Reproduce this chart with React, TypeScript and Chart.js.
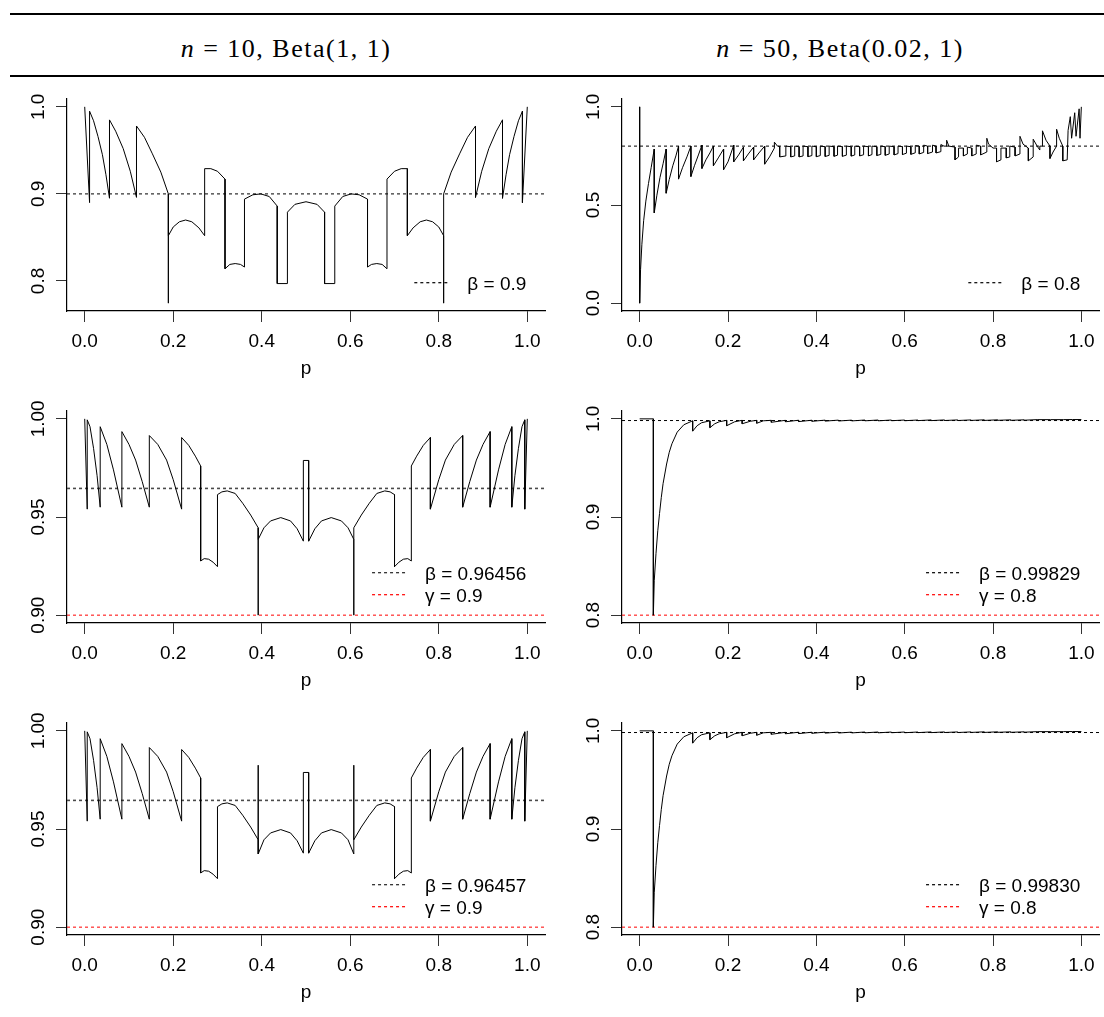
import React, { useEffect, useRef } from 'react';
import { Chart, registerables } from 'chart.js';

Chart.register(...registerables);

type Pt = [number, number];

// ---------------- data ----------------
const xRange: [number, number] = [-0.04, 1.04];
const xTicks = [0, 0.2, 0.4, 0.6, 0.8, 1.0];

const yTicksN10Top = [0.8, 0.9, 1.0];
const yTicksN50Top = [0.0, 0.5, 1.0];
const yTicksN10Low = [0.9, 0.95, 1.0];
const yTicksN50Low = [0.8, 0.9, 1.0];

const headers = ['n = 10, Beta(1, 1)', 'n = 50, Beta(0.02, 1)'];

// coverage, n = 10, Beta(1,1), row 1
const covN10Row1: Pt[] = [
  [0, 1.0], [0.011, 0.89], [0.011, 0.995], [0.02, 0.984], [0.03, 0.966], [0.04, 0.945], [0.048, 0.922], [0.056, 0.895],
  [0.056, 0.985], [0.07, 0.972], [0.087, 0.952], [0.103, 0.926], [0.117, 0.896],
  [0.117, 0.978], [0.135, 0.965], [0.153, 0.946], [0.172, 0.925], [0.189, 0.9],
  [0.189, 0.7745], [0.189, 0.852], [0.2, 0.862], [0.214, 0.868], [0.228, 0.87], [0.242, 0.868], [0.258, 0.861], [0.271, 0.852],
  [0.271, 0.929], [0.285, 0.929], [0.3, 0.926], [0.317, 0.917],
  [0.317, 0.814], [0.328, 0.819], [0.34, 0.82], [0.352, 0.819], [0.361, 0.816],
  [0.361, 0.894], [0.38, 0.899], [0.398, 0.9], [0.417, 0.897], [0.435, 0.886],
  [0.435, 0.797], [0.458, 0.797],
  [0.458, 0.879], [0.475, 0.888], [0.5, 0.891], [0.525, 0.888], [0.542, 0.879],
  [0.542, 0.797], [0.565, 0.797],
  [0.565, 0.886], [0.583, 0.897], [0.602, 0.9], [0.62, 0.899], [0.639, 0.894],
  [0.639, 0.816], [0.648, 0.819], [0.66, 0.82], [0.672, 0.819], [0.683, 0.814],
  [0.683, 0.917], [0.7, 0.926], [0.715, 0.929], [0.729, 0.929],
  [0.729, 0.852], [0.742, 0.861], [0.758, 0.868], [0.772, 0.87], [0.786, 0.868], [0.8, 0.862], [0.811, 0.852],
  [0.811, 0.7745], [0.811, 0.9], [0.828, 0.925], [0.847, 0.946], [0.865, 0.965], [0.883, 0.978],
  [0.883, 0.896], [0.897, 0.926], [0.913, 0.952], [0.93, 0.972], [0.944, 0.985],
  [0.944, 0.895], [0.952, 0.922], [0.96, 0.945], [0.97, 0.966], [0.98, 0.984], [0.989, 0.995],
  [0.989, 0.89], [1.0, 1.0],
];

// coverage, n = 50, Beta(0.02,1), row 1
const covN50Row1: Pt[] = [
  [0, 1.0], [0, 0.0],
  [0.002, 0.17], [0.005, 0.3], [0.009, 0.42], [0.014, 0.52], [0.02, 0.61], [0.026, 0.69], [0.033, 0.785],
  [0.033, 0.46], [0.039, 0.55], [0.046, 0.64], [0.053, 0.71], [0.06, 0.785],
  [0.06, 0.56], [0.067, 0.63], [0.075, 0.7], [0.082, 0.75], [0.088, 0.8],
  [0.088, 0.632], [0.097, 0.69], [0.107, 0.745], [0.116, 0.8],
  [0.116, 0.645], [0.124, 0.7], [0.133, 0.755], [0.141, 0.805],
  [0.141, 0.686], [0.15, 0.73], [0.159, 0.765], [0.167, 0.8],
  [0.167, 0.7], [0.178, 0.74], [0.19, 0.785],
  [0.19, 0.68], [0.2, 0.72], [0.213, 0.805],
  [0.213, 0.72], [0.224, 0.755], [0.235, 0.795],
  [0.235, 0.725], [0.246, 0.76], [0.258, 0.795],
  [0.258, 0.73], [0.27, 0.765], [0.283, 0.8],
  [0.283, 0.708], [0.294, 0.745], [0.305, 0.79], [0.305, 0.82], [0.312, 0.8],
  [0.317, 0.798], [0.317, 0.745], [0.331, 0.75], [0.331, 0.8], [0.342, 0.797], [0.342, 0.745], [0.351, 0.75],
  [0.351, 0.8], [0.361, 0.797], [0.361, 0.745], [0.37, 0.75], [0.37, 0.8], [0.381, 0.797], [0.381, 0.746],
  [0.39, 0.752], [0.39, 0.8], [0.4, 0.797], [0.4, 0.746], [0.409, 0.752], [0.409, 0.8], [0.42, 0.797],
  [0.42, 0.747], [0.429, 0.753], [0.429, 0.8], [0.44, 0.797], [0.44, 0.748], [0.448, 0.754], [0.448, 0.8],
  [0.459, 0.797], [0.459, 0.748], [0.468, 0.754], [0.468, 0.8], [0.479, 0.797], [0.479, 0.749], [0.487, 0.755],
  [0.487, 0.8], [0.498, 0.797], [0.498, 0.75], [0.507, 0.756], [0.507, 0.8], [0.518, 0.797], [0.518, 0.75],
  [0.526, 0.757], [0.526, 0.8], [0.537, 0.797], [0.537, 0.752], [0.546, 0.758], [0.546, 0.8], [0.556, 0.797],
  [0.556, 0.753], [0.565, 0.76], [0.565, 0.8], [0.576, 0.797], [0.576, 0.755], [0.585, 0.762], [0.585, 0.8],
  [0.595, 0.797], [0.595, 0.757], [0.604, 0.764], [0.604, 0.8], [0.614, 0.797], [0.614, 0.758], [0.624, 0.766],
  [0.624, 0.803], [0.633, 0.8], [0.633, 0.76], [0.643, 0.768], [0.643, 0.805], [0.652, 0.8], [0.652, 0.762],
  [0.663, 0.77], [0.663, 0.805], [0.671, 0.8], [0.671, 0.765], [0.682, 0.772], [0.682, 0.808], [0.689, 0.8],
  [0.695, 0.8], [0.695, 0.83], [0.7, 0.8], [0.714, 0.795], [0.714, 0.73], [0.722, 0.745], [0.722, 0.79],
  [0.733, 0.79], [0.733, 0.75], [0.742, 0.76], [0.742, 0.795], [0.752, 0.79], [0.752, 0.75], [0.762, 0.76],
  [0.762, 0.805], [0.772, 0.8], [0.772, 0.755], [0.786, 0.77], [0.786, 0.84], [0.79, 0.81], [0.8, 0.79],
  [0.808, 0.79], [0.808, 0.72], [0.818, 0.73], [0.818, 0.79], [0.83, 0.79], [0.83, 0.74], [0.838, 0.745],
  [0.838, 0.8], [0.85, 0.795], [0.85, 0.75], [0.861, 0.76], [0.861, 0.85], [0.868, 0.81], [0.88, 0.79],
  [0.88, 0.725], [0.891, 0.745], [0.891, 0.835], [0.9, 0.8], [0.906, 0.78], [0.906, 0.8], [0.912, 0.8],
  [0.912, 0.878], [0.92, 0.83], [0.929, 0.8], [0.929, 0.737], [0.936, 0.77], [0.944, 0.8], [0.944, 0.886],
  [0.95, 0.84], [0.958, 0.8], [0.958, 0.725], [0.968, 0.73],
  [0.97, 0.88], [0.975, 0.95], [0.978, 0.84], [0.985, 0.97], [0.988, 0.85], [0.995, 0.99], [0.997, 0.84], [1.0, 1.0],
];

// coverage, n = 10, Beta(1,1), row 2
const covN10Row2: Pt[] = [
  [0, 1.0], [0.0057, 0.954], [0.0057, 0.9995], [0.012, 0.996], [0.02, 0.985], [0.028, 0.971], [0.035, 0.955],
  [0.035, 0.996], [0.05, 0.987], [0.065, 0.974], [0.084, 0.955],
  [0.084, 0.9935], [0.1, 0.987], [0.115, 0.979], [0.13, 0.968], [0.146, 0.955],
  [0.146, 0.9915], [0.165, 0.987], [0.185, 0.979], [0.2, 0.969], [0.219, 0.954],
  [0.219, 0.9905], [0.235, 0.9865], [0.25, 0.981], [0.262, 0.976],
  [0.262, 0.9276], [0.27, 0.9288], [0.28, 0.9285], [0.29, 0.927], [0.3, 0.9247],
  [0.3, 0.9614], [0.31, 0.9628], [0.322, 0.9633], [0.34, 0.962], [0.357, 0.957], [0.375, 0.951], [0.392, 0.9445],
  [0.392, 0.9], [0.392, 0.9386],
  [0.405, 0.9445], [0.42, 0.948], [0.443, 0.9497], [0.465, 0.948], [0.48, 0.944], [0.494, 0.9377],
  [0.494, 0.9788], [0.506, 0.9788], [0.506, 0.9377],
  [0.52, 0.944], [0.535, 0.948], [0.557, 0.9497], [0.58, 0.948], [0.595, 0.9445], [0.608, 0.9386],
  [0.608, 0.9], [0.608, 0.9445],
  [0.625, 0.951], [0.643, 0.957], [0.66, 0.962], [0.678, 0.9633], [0.69, 0.9628], [0.7, 0.9614],
  [0.7, 0.9247], [0.71, 0.927], [0.72, 0.9285], [0.73, 0.9288], [0.738, 0.9276],
  [0.738, 0.976], [0.75, 0.981], [0.765, 0.9865], [0.781, 0.9905],
  [0.781, 0.954], [0.8, 0.969], [0.815, 0.979], [0.835, 0.987], [0.854, 0.9915],
  [0.854, 0.955], [0.87, 0.968], [0.885, 0.979], [0.9, 0.987], [0.916, 0.9935],
  [0.916, 0.955], [0.935, 0.974], [0.95, 0.987], [0.965, 0.996],
  [0.965, 0.955], [0.972, 0.971], [0.98, 0.985], [0.988, 0.996], [0.9943, 0.9995],
  [0.9943, 0.954], [1.0, 1.0],
];

// coverage, n = 10, Beta(1,1), row 3
const covN10Row3: Pt[] = [
  [0, 1.0], [0.0057, 0.954], [0.0057, 0.9995], [0.012, 0.996], [0.02, 0.985], [0.028, 0.971], [0.035, 0.955],
  [0.035, 0.996], [0.05, 0.987], [0.065, 0.974], [0.084, 0.955],
  [0.084, 0.9935], [0.1, 0.987], [0.115, 0.979], [0.13, 0.968], [0.146, 0.955],
  [0.146, 0.9915], [0.165, 0.987], [0.185, 0.979], [0.2, 0.969], [0.219, 0.954],
  [0.219, 0.9905], [0.235, 0.9865], [0.25, 0.981], [0.262, 0.976],
  [0.262, 0.9276], [0.27, 0.9288], [0.28, 0.9285], [0.29, 0.927], [0.3, 0.9247],
  [0.3, 0.9614], [0.31, 0.9628], [0.322, 0.9633], [0.34, 0.962], [0.357, 0.957], [0.375, 0.951], [0.392, 0.9445],
  [0.392, 0.9825], [0.392, 0.9373],
  [0.405, 0.9445], [0.42, 0.948], [0.443, 0.9497], [0.465, 0.948], [0.48, 0.944], [0.494, 0.9377],
  [0.494, 0.9788], [0.506, 0.9788], [0.506, 0.9377],
  [0.52, 0.944], [0.535, 0.948], [0.557, 0.9497], [0.58, 0.948], [0.595, 0.9445], [0.608, 0.9373],
  [0.608, 0.9825], [0.608, 0.9445],
  [0.625, 0.951], [0.643, 0.957], [0.66, 0.962], [0.678, 0.9633], [0.69, 0.9628], [0.7, 0.9614],
  [0.7, 0.9247], [0.71, 0.927], [0.72, 0.9285], [0.73, 0.9288], [0.738, 0.9276],
  [0.738, 0.976], [0.75, 0.981], [0.765, 0.9865], [0.781, 0.9905],
  [0.781, 0.954], [0.8, 0.969], [0.815, 0.979], [0.835, 0.987], [0.854, 0.9915],
  [0.854, 0.955], [0.87, 0.968], [0.885, 0.979], [0.9, 0.987], [0.916, 0.9935],
  [0.916, 0.955], [0.935, 0.974], [0.95, 0.987], [0.965, 0.996],
  [0.965, 0.955], [0.972, 0.971], [0.98, 0.985], [0.988, 0.996], [0.9943, 0.9995],
  [0.9943, 0.954], [1.0, 1.0],
];

// coverage, n = 50, Beta(0.02,1), rows 2 and 3
const covN50Low: Pt[] = [
  [0, 1.0], [0.031, 1.0], [0.031, 0.8], [0.033, 0.835], [0.037, 0.863], [0.041, 0.886], [0.045, 0.9036],
  [0.049, 0.92], [0.053, 0.934], [0.061, 0.954], [0.067, 0.966], [0.073, 0.9746], [0.085, 0.9865],
  [0.1, 0.994], [0.12, 0.998],
  [0.12, 0.9875], [0.13, 0.993], [0.14, 0.996], [0.159, 0.998],
  [0.159, 0.991], [0.17, 0.995], [0.18, 0.997], [0.197, 0.9985],
  [0.197, 0.993], [0.215, 0.997], [0.232, 0.9985],
  [0.232, 0.995], [0.25, 0.9975], [0.265, 0.9985],
  [0.265, 0.9955], [0.28, 0.998], [0.298, 0.9985],
  [0.298, 0.9965], [0.33, 0.9985], [0.33, 0.997], [0.36, 0.9986], [0.36, 0.9972], [0.39, 0.9986],
  [0.39, 0.9975], [0.42, 0.9987], [0.42, 0.9977], [0.45, 0.9987], [0.45, 0.9978], [0.48, 0.9987],
  [0.48, 0.9979], [0.51, 0.9988], [0.51, 0.998], [0.54, 0.9988], [0.54, 0.998], [0.57, 0.9988],
  [0.57, 0.9981], [0.6, 0.9988], [0.6, 0.9981], [0.63, 0.9988], [0.63, 0.9982], [0.66, 0.9989],
  [0.66, 0.9982], [0.69, 0.9989], [0.69, 0.9983], [0.72, 0.9989], [0.72, 0.9983], [0.75, 0.9989],
  [0.75, 0.9984], [0.78, 0.999], [0.78, 0.9984], [0.81, 0.999], [0.81, 0.9985], [0.84, 0.999],
  [0.84, 0.9985], [0.87, 0.999], [0.87, 0.9986], [0.9, 0.9992], [0.93, 0.9992], [0.96, 0.9992],
  [0.98, 0.9993], [1.0, 0.9993],
];

// reference levels
const betaRow1 = [0.9, 0.8];
const betaRow2 = [0.96456, 0.99829];
const betaRow3 = [0.96457, 0.9983];
const gammaLevels = [0.9, 0.8];

// ---------------- layout / style ----------------
const FONT = '"Liberation Sans", Arial, Helvetica, sans-serif';
const CANVAS_W = 552;
const CANVAS_H = 301;
const colLeft = [0, 552];
const rowTop = [80, 392, 704];
const yScaleW = [67, 70];
const padRight = [7, 5];

type Ref = { value: number; color: string; legendColor: string; width: number; label: string };
type PanelSpec = {
  col: number;
  row: number;
  curve: Pt[];
  yMin: number;
  yMax: number;
  yTicks: number[];
  yDigits: number;
  refs: Ref[];
};

const fmtBeta = (v: number) => v.toFixed(5);

const panels: PanelSpec[] = [
  {
    col: 0, row: 0, curve: covN10Row1, yMin: 0.7655, yMax: 1.009, yTicks: yTicksN10Top, yDigits: 1,
    refs: [{ value: betaRow1[0], color: '#000', legendColor: '#000', width: 1, label: 'β = ' + betaRow1[0] }],
  },
  {
    col: 1, row: 0, curve: covN50Row1, yMin: -0.04, yMax: 1.04, yTicks: yTicksN50Top, yDigits: 1,
    refs: [{ value: betaRow1[1], color: '#000', legendColor: '#000', width: 1, label: 'β = ' + betaRow1[1] }],
  },
  {
    col: 0, row: 1, curve: covN10Row2, yMin: 0.896, yMax: 1.004, yTicks: yTicksN10Low, yDigits: 2,
    refs: [
      { value: betaRow2[0], color: '#4a4a4a', legendColor: '#222', width: 1.6, label: 'β = ' + fmtBeta(betaRow2[0]) },
      { value: gammaLevels[0], color: '#ff0000', legendColor: '#ff0000', width: 1, label: 'γ = ' + gammaLevels[0] },
    ],
  },
  {
    col: 1, row: 1, curve: covN50Low, yMin: 0.792, yMax: 1.008, yTicks: yTicksN50Low, yDigits: 1,
    refs: [
      { value: betaRow2[1], color: '#000', legendColor: '#000', width: 1, label: 'β = ' + fmtBeta(betaRow2[1]) },
      { value: gammaLevels[1], color: '#ff0000', legendColor: '#ff0000', width: 1, label: 'γ = ' + gammaLevels[1] },
    ],
  },
  {
    col: 0, row: 2, curve: covN10Row3, yMin: 0.896, yMax: 1.004, yTicks: yTicksN10Low, yDigits: 2,
    refs: [
      { value: betaRow3[0], color: '#4a4a4a', legendColor: '#222', width: 1.6, label: 'β = ' + fmtBeta(betaRow3[0]) },
      { value: gammaLevels[0], color: '#ff0000', legendColor: '#ff0000', width: 1, label: 'γ = ' + gammaLevels[0] },
    ],
  },
  {
    col: 1, row: 2, curve: covN50Low, yMin: 0.792, yMax: 1.008, yTicks: yTicksN50Low, yDigits: 1,
    refs: [
      { value: betaRow3[1], color: '#000', legendColor: '#000', width: 1, label: 'β = ' + fmtBeta(betaRow3[1]) },
      { value: gammaLevels[1], color: '#ff0000', legendColor: '#ff0000', width: 1, label: 'γ = ' + gammaLevels[1] },
    ],
  },
];

function Panel({ spec }: { spec: PanelSpec }) {
  const ref = useRef<HTMLCanvasElement | null>(null);
  useEffect(() => {
    const canvas = ref.current;
    if (!canvas) return;
    const font19 = `19px ${FONT}`;
    const decor = {
      id: 'rdecor',
      afterDraw(chart: any) {
        const ctx = chart.ctx as CanvasRenderingContext2D;
        const { left, right, bottom } = chart.chartArea;
        const ys = chart.scales.y;
        const xs = chart.scales.x;
        ctx.save();
        ctx.fillStyle = '#000';
        ctx.font = font19;
        // rotated y tick labels
        for (const v of spec.yTicks) {
          const py = ys.getPixelForValue(v);
          ctx.save();
          ctx.translate(left - 30, py);
          ctx.rotate(-Math.PI / 2);
          ctx.textAlign = 'center';
          ctx.textBaseline = 'alphabetic';
          ctx.fillText(v.toFixed(spec.yDigits), 0, 6.8);
          ctx.restore();
        }
        // x axis title
        ctx.textAlign = 'center';
        ctx.textBaseline = 'alphabetic';
        ctx.fillText('p', xs.getPixelForValue(0.5), bottom + 63);
        // legend (bottom right)
        const maxW = Math.max(...spec.refs.map((r) => ctx.measureText(r.label).width));
        const textLeft = right - 18.7 - maxW;
        const segEnd = textLeft - 17;
        const segStart = segEnd - 36;
        spec.refs.forEach((r, i) => {
          const yc = bottom - 28.3 - (spec.refs.length - 1 - i) * 22;
          ctx.save();
          ctx.strokeStyle = r.legendColor;
          ctx.lineWidth = 1.2;
          ctx.setLineDash([3, 3]);
          ctx.beginPath();
          ctx.moveTo(segStart, yc);
          ctx.lineTo(segEnd, yc);
          ctx.stroke();
          ctx.restore();
          ctx.fillStyle = '#000';
          ctx.textAlign = 'left';
          ctx.fillText(r.label, textLeft, yc + 6.8);
        });
        ctx.restore();
      },
    };

    const datasets: any[] = [
      {
        data: spec.curve.map(([x, y]) => ({ x, y })),
        borderColor: '#000',
        borderWidth: 1,
        pointRadius: 0,
        tension: 0,
        fill: false,
      },
      ...spec.refs.map((r) => ({
        data: [
          { x: xRange[0], y: r.value },
          { x: xRange[1], y: r.value },
        ],
        borderColor: r.color,
        borderWidth: r.width,
        borderDash: [3, 3],
        pointRadius: 0,
        fill: false,
      })),
    ];

    const gridOpts = {
      display: true,
      drawOnChartArea: false,
      drawTicks: true,
      tickLength: 11,
      color: '#333',
      lineWidth: 1,
    };
    const borderOpts = { display: true, color: '#000', width: 1.2 };

    const chart = new Chart(canvas, {
      type: 'line',
      data: { datasets },
      options: {
        animation: false,
        responsive: false,
        maintainAspectRatio: false,
        events: [],
        layout: { padding: { left: 0, top: 19, right: padRight[spec.col], bottom: 0 } },
        plugins: { legend: { display: false }, tooltip: { enabled: false } },
        scales: {
          x: {
            type: 'linear',
            min: xRange[0],
            max: xRange[1],
            afterBuildTicks: (s: any) => {
              s.ticks = xTicks.map((v) => ({ value: v }));
            },
            afterFit: (s: any) => {
              s.height = 70;
            },
            ticks: {
              autoSkip: false,
              maxRotation: 0,
              minRotation: 0,
              padding: 8,
              color: '#000',
              font: { family: FONT, size: 19 },
              callback: (v: any) => Number(v).toFixed(1),
            },
            grid: gridOpts,
            border: borderOpts,
          },
          y: {
            type: 'linear',
            min: spec.yMin,
            max: spec.yMax,
            afterBuildTicks: (s: any) => {
              s.ticks = spec.yTicks.map((v) => ({ value: v }));
            },
            afterFit: (s: any) => {
              s.width = yScaleW[spec.col];
            },
            ticks: { display: false },
            grid: gridOpts,
            border: borderOpts,
          },
        },
      } as any,
      plugins: [decor],
    });
    return () => chart.destroy();
  }, [spec]);

  return (
    <canvas
      ref={ref}
      width={CANVAS_W}
      height={CANVAS_H}
      style={{
        position: 'absolute',
        left: colLeft[spec.col],
        top: rowTop[spec.row],
        width: CANVAS_W,
        height: CANVAS_H,
      }}
    />
  );
}

function Header({ text, center }: { text: string; center: number }) {
  const [lhs, rest] = text.split(' = ');
  const name = lhs.trim();
  return (
    <div
      style={{
        position: 'absolute',
        left: center - 200,
        width: 400,
        top: 35.5,
        textAlign: 'center',
        fontFamily: '"Liberation Serif", "DejaVu Serif", serif',
        fontSize: 26,
        lineHeight: '26px',
        letterSpacing: 1.5,
        whiteSpace: 'pre',
        color: '#000',
      }}
    >
      <span style={{ fontStyle: 'italic' }}>{name}</span>
      {' = '}
      {rest}
    </div>
  );
}

export default function App() {
  return (
    <div
      style={{
        position: 'fixed',
        left: 0,
        top: 0,
        width: 1104,
        height: 1017,
        background: '#fff',
        overflow: 'hidden',
      }}
    >
      <div style={{ position: 'absolute', left: 10, right: 0, top: 12.5, height: 2, background: '#000' }} />
      <div style={{ position: 'absolute', left: 10, right: 0, top: 75.2, height: 1.4, background: '#000' }} />
      <Header text={headers[0]} center={286} />
      <Header text={headers[1]} center={840} />
      {panels.map((p, i) => (
        <Panel key={i} spec={p} />
      ))}
    </div>
  );
}
